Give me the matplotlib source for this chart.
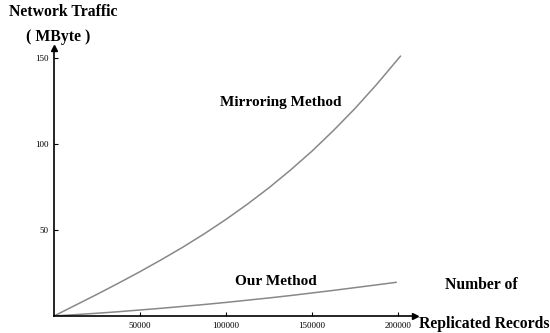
import matplotlib.pyplot as plt
import numpy as np

plt.rcParams['font.family'] = ['Liberation Serif', 'DejaVu Serif']

records = [0, 12500, 25000, 37500, 50000, 62500, 75000, 87500, 100000,
           112500, 125000, 137500, 150000, 162500, 175000, 187500]
mirroring = [0, 6.3, 12.6, 19.1, 25.8, 32.8, 40.1, 47.9, 56.2,
             65.1, 74.6, 84.9, 95.9, 107.9, 120.7, 134.6]
ours = [0, 0.8, 1.6, 2.5, 3.5, 4.5, 5.6, 6.7, 7.9,
        9.2, 10.5, 11.9, 13.4, 14.9, 16.5, 18.1]
mirroring_end = (201500, 151.2)
ours_end = (199000, 19.6)

xticks = [50000, 100000, 150000, 200000]
yticks = [50, 100, 150]

fig = plt.figure(figsize=(5.5, 3.33), dpi=100)
ax = fig.add_axes([54 / 550, 17 / 333, 361 / 550, 268 / 333])

ax.plot(records + [mirroring_end[0]], mirroring + [mirroring_end[1]],
        color='#888888', linewidth=1.1)
ax.plot(records + [ours_end[0]], ours + [ours_end[1]],
        color='#888888', linewidth=1.1)

ax.set_xlim(0, 210000)
ax.set_ylim(0, 156)

for side in ['top', 'right']:
    ax.spines[side].set_visible(False)
for side in ['left', 'bottom']:
    ax.spines[side].set_linewidth(1.2)

# arrow heads at the axis ends
ax.plot(1, 0, '>k', markersize=4, transform=ax.transAxes, clip_on=False)
ax.plot(0, 1, '^k', markersize=4, transform=ax.transAxes, clip_on=False)

ax.set_xticks(xticks)
ax.set_yticks(yticks)
ax.set_xticklabels([str(v) for v in xticks])
ax.set_yticklabels([str(v) for v in yticks])
ax.tick_params(direction='in', length=3, width=0.8, labelsize=6.5, pad=4)

ax.text(132000, 124, 'Mirroring Method', fontsize=11, fontweight='bold',
        ha='center', va='center')
ax.text(129000, 20, 'Our Method', fontsize=11, fontweight='bold',
        ha='center', va='center')

fig.text(63 / 550, 1 - 12 / 333, 'Network Traffic', fontsize=11.3,
         fontweight='bold', ha='center', va='center')
fig.text(58 / 550, 1 - 37 / 333, '( MByte )', fontsize=11.3,
         fontweight='bold', ha='center', va='center')
fig.text(481 / 550, 1 - 285 / 333, 'Number of', fontsize=11.3,
         fontweight='bold', ha='center', va='center')
fig.text(484 / 550, 1 - 324 / 333, 'Replicated Records', fontsize=11.3,
         fontweight='bold', ha='center', va='center')

fig.savefig('out.png', dpi=100)
